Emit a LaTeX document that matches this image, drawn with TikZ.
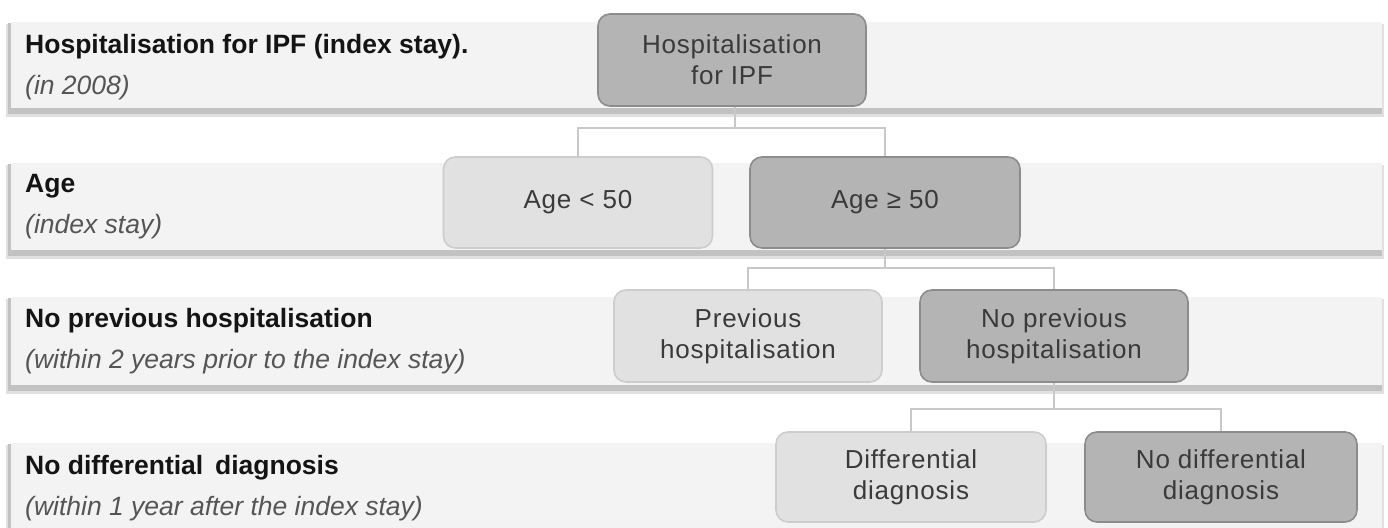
\documentclass[tikz,border=0pt]{standalone}
\usepackage{fontspec}
\setmainfont{Liberation Sans}
\newfontfamily\boxfont[LetterSpace=3]{Liberation Sans}
\definecolor{bandfill}{HTML}{F3F3F3}
\definecolor{bandshadow}{HTML}{C2C2C2}
\definecolor{bandshadowlight}{HTML}{E0E0E0}
\definecolor{darkfill}{HTML}{B4B4B4}
\definecolor{darkborder}{HTML}{8C8C8C}
\definecolor{lightfill}{HTML}{E1E1E1}
\definecolor{lightborder}{HTML}{CDCDCD}
\definecolor{linkcol}{HTML}{C8C8C8}
\definecolor{nodetext}{HTML}{3A3A3A}
\definecolor{subtext}{HTML}{555555}
\tikzset{
  boxbase/.style={rounded corners=12pt, line width=1.6pt, align=center, inner sep=0pt,
    font=\boxfont\fontsize{26}{31}\selectfont, text=nodetext},
  darkbox/.style={boxbase, fill=darkfill, draw=darkborder},
  lightbox/.style={boxbase, fill=lightfill, draw=lightborder},
  link/.style={draw=linkcol, line width=1.6pt},
  titlelabel/.style={anchor=base west, inner sep=0pt, font=\fontsize{26.5}{30}\selectfont\bfseries, text=black!92},
  sublabel/.style={anchor=base west, inner sep=0pt, font=\fontsize{26.5}{30}\selectfont\itshape, text=subtext},
}
\begin{document}
\begin{tikzpicture}[x=1pt,y=-1pt]
\useasboundingbox (0,0) rectangle (1388,527);
\fill[white] (0,0) rectangle (1388,527);
% bands
\foreach \t/\b in {22/108,163/250,297/385,443/540}{
  \fill[bandshadowlight] (6,\t+2) rectangle (1384,\b+9);
  \fill[bandshadow] (8,\t+1) rectangle (1382,\b+6);
  \fill[bandfill] (11,\t) rectangle (1382,\b);
}
% labels
\node[titlelabel] (t1) at (25,54) {Hospitalisation for IPF (index stay).};
\node[sublabel] (s1) at (25,94) {(in 2008)};
\node[titlelabel] (t2) at (25,192) {Age};
\node[sublabel] (s2) at (25,233) {(index stay)};
\node[titlelabel] (t3) at (25,327) {No previous hospitalisation};
\node[sublabel] (s3) at (25,368) {(within 2 years prior to the index stay)};
\node[titlelabel] (t4) at (25,474) {No differential\ \,diagnosis};
\node[sublabel] (s4) at (25,515) {(within 1 year after the index stay)};
% nodes
\node[darkbox, minimum width=268pt, minimum height=92pt] (n1) at (732,60) {Hospitalisation\\for IPF};
\node[lightbox, minimum width=269pt, minimum height=91pt] (a1) at (578,202.5) {Age < 50};
\node[darkbox, minimum width=270pt, minimum height=91pt] (a2) at (885,202.5) {Age ≥ 50};
\node[lightbox, minimum width=268pt, minimum height=92pt] (p1) at (748,336) {Previous\\hospitalisation};
\node[darkbox, minimum width=268pt, minimum height=92pt] (p2) at (1054,336) {No previous\\hospitalisation};
\node[lightbox, minimum width=270pt, minimum height=90pt] (d1) at (911,477) {Differential\\diagnosis};
\node[darkbox, minimum width=272pt, minimum height=90pt] (d2) at (1221,477) {No differential\\diagnosis};
% connectors
\coordinate (j1) at (735,128);
\coordinate (j2) at (885,268);
\coordinate (j3) at (1054,409);
\draw[link] (n1.south -| j1) -- (j1);
\draw[link] (j1) -| (a1.north);
\draw[link] (j1) -| (a2.north);
\draw[link] (a2.south) -- (j2);
\draw[link] (j2) -| (p1.north);
\draw[link] (j2) -| (p2.north);
\draw[link] (p2.south) -- (j3);
\draw[link] (j3) -| (d1.north);
\draw[link] (j3) -| (d2.north);
\end{tikzpicture}
\end{document}
